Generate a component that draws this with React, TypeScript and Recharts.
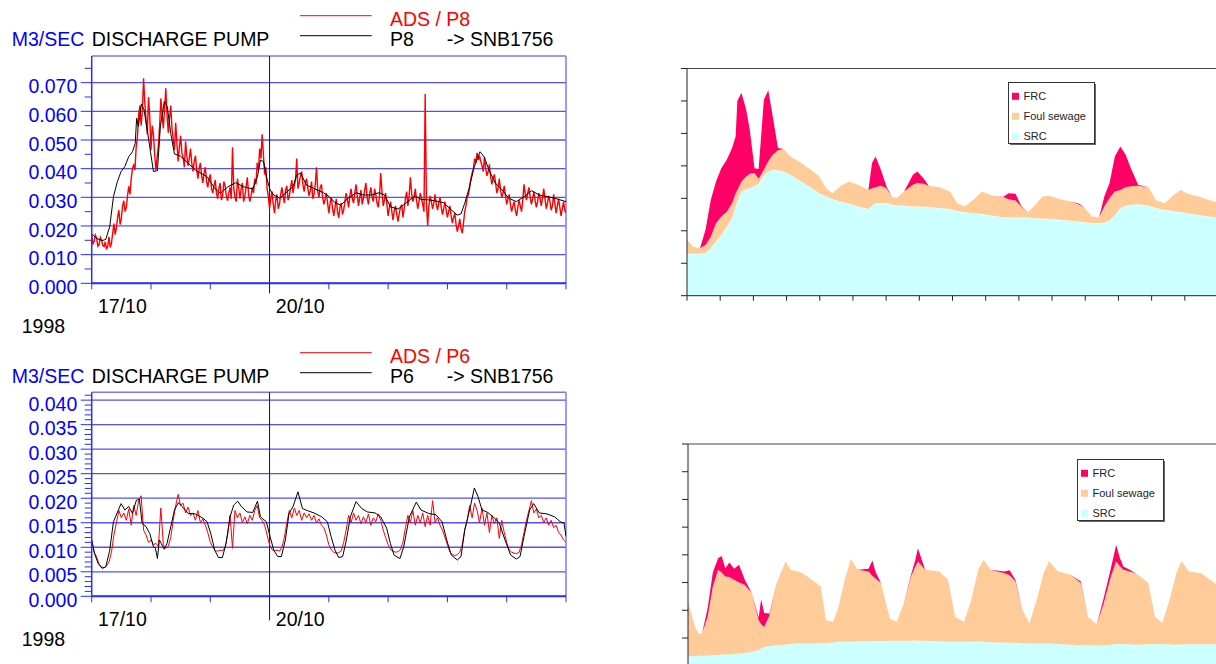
import React from 'react';
import { LineChart, Line, AreaChart, Area, XAxis, YAxis, CartesianGrid, ReferenceLine, Legend } from 'recharts';

const FONT = '"Liberation Sans", Arial, Helvetica, sans-serif';
const BLUE_TEXT = '#0000ff';
const GRID_BLUE = '#5050ff';
const FRAME_BLUE = '#7878ff';
const AXIS_BLUE = '#2c2cff';
const DATE_LINE = '#0000c8';

// ---------- shared x axis (hours from 17/10 00:00) ----------
const dayTicks = [0, 24, 48, 72, 96, 120, 144, 168, 192];
const dayLabels: Record<number, string> = { 0: '17/10', 72: '20/10' };
const yearLabel = '1998';
const halfDayTicks = [0, 12, 24, 36, 48, 60, 72, 84, 96, 108, 120, 132, 144, 156, 168, 180, 192];

// ---------- P8 (top-left) ----------
const p8Max = 0.0793;
const p8Ticks = [0, 0.005, 0.01, 0.015, 0.02, 0.025, 0.03, 0.035, 0.04, 0.045, 0.05, 0.055, 0.06, 0.065, 0.07, 0.075];
const p8Majors = [0, 0.01, 0.02, 0.03, 0.04, 0.05, 0.06, 0.07];
// ADS / P8 values on the hour (m3/s), hour 0..192
const p8Ads = [
  0.0170, 0.0146, 0.0157, 0.0135, 0.0150, 0.0128, 0.0118, 0.0162, 0.0140, 0.0208, 0.0194, 0.0255,
  0.0226, 0.0288, 0.0265, 0.0338, 0.0365, 0.0412, 0.0475, 0.0585, 0.0550, 0.0715, 0.0570, 0.0650,
  0.0465, 0.0520, 0.0395, 0.0480, 0.0645, 0.0540, 0.0680, 0.0525, 0.0620, 0.0505, 0.0560, 0.0425,
  0.0515, 0.0440, 0.0495, 0.0410, 0.0470, 0.0390, 0.0445, 0.0365, 0.0420, 0.0350, 0.0405, 0.0335,
  0.0380, 0.0315, 0.0360, 0.0295, 0.0350, 0.0305, 0.0340, 0.0288, 0.0335, 0.0475, 0.0300, 0.0365,
  0.0295, 0.0350, 0.0305, 0.0370, 0.0285, 0.0335, 0.0365, 0.0420, 0.0470, 0.0520, 0.0380, 0.0330,
  0.0260, 0.0320, 0.0245, 0.0310, 0.0275, 0.0335, 0.0280, 0.0340, 0.0305, 0.0360, 0.0340, 0.0435,
  0.0350, 0.0390, 0.0320, 0.0365, 0.0305, 0.0355, 0.0310, 0.0405, 0.0300, 0.0345, 0.0275, 0.0315,
  0.0245, 0.0300, 0.0235, 0.0295, 0.0228, 0.0280, 0.0255, 0.0315, 0.0265, 0.0330, 0.0280, 0.0345,
  0.0270, 0.0325, 0.0295, 0.0350, 0.0275, 0.0335, 0.0285, 0.0310, 0.0265, 0.0385, 0.0270, 0.0315,
  0.0235, 0.0285, 0.0220, 0.0270, 0.0215, 0.0265, 0.0230, 0.0295, 0.0270, 0.0370, 0.0285, 0.0330,
  0.0260, 0.0315, 0.0275, 0.0660, 0.0200, 0.0305, 0.0260, 0.0310, 0.0255, 0.0300, 0.0240, 0.0285,
  0.0230, 0.0270, 0.0210, 0.0245, 0.0180, 0.0225, 0.0175, 0.0250, 0.0300, 0.0335, 0.0385, 0.0435,
  0.0455, 0.0445, 0.0410, 0.0440, 0.0375, 0.0415, 0.0345, 0.0380, 0.0315, 0.0365, 0.0300, 0.0340,
  0.0275, 0.0310, 0.0250, 0.0285, 0.0235, 0.0290, 0.0250, 0.0345, 0.0290, 0.0335, 0.0275, 0.0320,
  0.0265, 0.0315, 0.0270, 0.0330, 0.0260, 0.0305, 0.0255, 0.0310, 0.0245, 0.0295, 0.0235, 0.0285,
  0.0245,
];
// ADS / P8 values on the half hour (m3/s), hour 0.5..191.5
const p8AdsHalf = [
  0.0138, 0.0168, 0.0129, 0.0160, 0.0132, 0.0145, 0.0130, 0.0125, 0.0175, 0.0170, 0.0230, 0.0205,
  0.0270, 0.0250, 0.0305, 0.0310, 0.0400, 0.0395, 0.0510, 0.0620, 0.0600, 0.0630, 0.0520, 0.0580,
  0.0550, 0.0450, 0.0440, 0.0550, 0.0590, 0.0610, 0.0585, 0.0575, 0.0540, 0.0465, 0.0490, 0.0475,
  0.0455, 0.0405, 0.0445, 0.0435, 0.0420, 0.0425, 0.0395, 0.0400, 0.0375, 0.0385, 0.0355, 0.0365,
  0.0330, 0.0340, 0.0315, 0.0330, 0.0290, 0.0355, 0.0305, 0.0315, 0.0295, 0.0330, 0.0285, 0.0335,
  0.0330, 0.0285, 0.0335, 0.0310, 0.0305, 0.0315, 0.0345, 0.0395, 0.0435, 0.0450, 0.0405, 0.0305,
  0.0295, 0.0275, 0.0290, 0.0260, 0.0310, 0.0305, 0.0325, 0.0290, 0.0335, 0.0315, 0.0360, 0.0330,
  0.0375, 0.0345, 0.0350, 0.0330, 0.0325, 0.0295, 0.0345, 0.0320, 0.0335, 0.0300, 0.0295, 0.0280,
  0.0280, 0.0260, 0.0265, 0.0250, 0.0265, 0.0240, 0.0285, 0.0290, 0.0305, 0.0295, 0.0315, 0.0305,
  0.0300, 0.0275, 0.0325, 0.0300, 0.0310, 0.0300, 0.0330, 0.0280, 0.0305, 0.0320, 0.0290, 0.0275,
  0.0265, 0.0250, 0.0255, 0.0240, 0.0245, 0.0275, 0.0260, 0.0320, 0.0305, 0.0315, 0.0300, 0.0290,
  0.0285, 0.0295, 0.0250, 0.0280, 0.0270, 0.0285, 0.0280, 0.0275, 0.0280, 0.0265, 0.0260, 0.0255,
  0.0250, 0.0235, 0.0230, 0.0205, 0.0200, 0.0190, 0.0210, 0.0270, 0.0310, 0.0365, 0.0400, 0.0420,
  0.0430, 0.0425, 0.0390, 0.0400, 0.0390, 0.0370, 0.0365, 0.0350, 0.0330, 0.0325, 0.0315, 0.0305,
  0.0295, 0.0275, 0.0270, 0.0255, 0.0265, 0.0270, 0.0290, 0.0310, 0.0315, 0.0300, 0.0295, 0.0290,
  0.0285, 0.0295, 0.0300, 0.0295, 0.0280, 0.0285, 0.0270, 0.0280, 0.0270, 0.0265, 0.0260, 0.0255,
];
const p8ModelHours = [
  0, 1.9, 4.2, 5.7, 7.3, 8.8, 10.4, 11.9, 13.4, 15, 16.5, 17.6, 18.2, 18.9, 20.1, 21.2, 22.7, 24.3, 25, 26.6,
  27.8, 29.4, 30.6, 32, 33.5, 35.9, 39, 42, 46.7, 49.8, 52.1, 55.2, 58.3, 61.4, 65.2, 67.1, 68.3, 69.6, 70.7, 72.2,
  73.7, 76.1, 78.4, 81.5, 83, 84.6, 86.9, 90, 93.8, 96.2, 98.5, 100.8, 103.9, 107, 110.1, 113.2, 116.3, 118.6, 120.9, 124,
  127.1, 130.9, 133.3, 136.4, 139.4, 142.5, 145.6, 148, 149.5, 151, 152.6, 154.9, 157.2, 158.8, 161.1, 163.4, 165.7, 168.8, 171.9, 175,
  178.1, 181.2, 185.8, 188.9, 192,
];
const p8Model = [
  0.0174, 0.0157, 0.0149, 0.0153, 0.0198, 0.0302, 0.0355, 0.039, 0.0407, 0.0442, 0.0459, 0.0488, 0.0576, 0.0547, 0.0626, 0.0605, 0.0523, 0.043, 0.039, 0.0393,
  0.0547, 0.0634, 0.0616, 0.0523, 0.0451, 0.0444, 0.0419, 0.0395, 0.0372, 0.0331, 0.0314, 0.0337, 0.0351, 0.0337, 0.0329, 0.0372, 0.043, 0.0424, 0.0372, 0.0326,
  0.0308, 0.0297, 0.0314, 0.0337, 0.0378, 0.0384, 0.0343, 0.0331, 0.0316, 0.0302, 0.0281, 0.0273, 0.0297, 0.0316, 0.0308, 0.0308, 0.0316, 0.0308, 0.0267, 0.0259,
  0.0279, 0.0305, 0.0293, 0.0291, 0.0287, 0.0281, 0.0256, 0.0238, 0.0242, 0.0279, 0.0326, 0.0407, 0.0459, 0.0442, 0.039, 0.0349, 0.0331, 0.0297, 0.0285, 0.0302,
  0.0323, 0.0308, 0.03, 0.0293, 0.0285,
];

// ---------- P6 (bottom-left) ----------
const p6Max = 0.0416;
const p6Ticks = [
  0, 0.001, 0.002, 0.003, 0.004, 0.005, 0.006, 0.007, 0.008, 0.009, 0.01, 0.011, 0.012, 0.013, 0.014,
  0.015, 0.016, 0.017, 0.018, 0.019, 0.02, 0.021, 0.022, 0.023, 0.024, 0.025, 0.026, 0.027, 0.028,
  0.029, 0.03, 0.031, 0.032, 0.033, 0.034, 0.035, 0.036, 0.037, 0.038, 0.039, 0.04, 0.041,
];
const p6Majors = [0, 0.005, 0.01, 0.015, 0.02, 0.025, 0.03, 0.035, 0.04];
const p6Ads = [
  0.0115, 0.0090, 0.0080, 0.0065, 0.0060, 0.0058, 0.0062, 0.0070, 0.0090, 0.0125, 0.0150, 0.0175,
  0.0160, 0.0170, 0.0155, 0.0178, 0.0145, 0.0185, 0.0165, 0.0195, 0.0205, 0.0135, 0.0125, 0.0110,
  0.0115, 0.0105, 0.0108, 0.0102, 0.0180, 0.0105, 0.0098, 0.0102, 0.0120, 0.0155, 0.0185, 0.0208,
  0.0185, 0.0190, 0.0170, 0.0182, 0.0165, 0.0170, 0.0155, 0.0175, 0.0150, 0.0158, 0.0145, 0.0130,
  0.0110, 0.0100, 0.0093, 0.0092, 0.0094, 0.0093, 0.0100, 0.0125, 0.0165, 0.0098, 0.0175, 0.0160,
  0.0170, 0.0150, 0.0162, 0.0148, 0.0165, 0.0155, 0.0175, 0.0185, 0.0160, 0.0155, 0.0145, 0.0125,
  0.0105, 0.0095, 0.0093, 0.0094, 0.0092, 0.0100, 0.0120, 0.0150, 0.0175, 0.0160, 0.0180, 0.0165,
  0.0175, 0.0155, 0.0170, 0.0160, 0.0168, 0.0155, 0.0165, 0.0150, 0.0158, 0.0145, 0.0140, 0.0125,
  0.0105, 0.0095, 0.0090, 0.0088, 0.0089, 0.0092, 0.0110, 0.0135, 0.0165, 0.0150, 0.0170, 0.0155,
  0.0165, 0.0148, 0.0162, 0.0150, 0.0168, 0.0145, 0.0160, 0.0152, 0.0168, 0.0155, 0.0135, 0.0120,
  0.0105, 0.0095, 0.0092, 0.0090, 0.0091, 0.0095, 0.0110, 0.0140, 0.0165, 0.0150, 0.0175, 0.0145,
  0.0165, 0.0150, 0.0170, 0.0142, 0.0165, 0.0145, 0.0195, 0.0150, 0.0160, 0.0145, 0.0135, 0.0120,
  0.0105, 0.0090, 0.0085, 0.0083, 0.0085, 0.0090, 0.0105, 0.0135, 0.0155, 0.0185, 0.0160, 0.0190,
  0.0175, 0.0150, 0.0180, 0.0145, 0.0170, 0.0130, 0.0165, 0.0148, 0.0160, 0.0118, 0.0155, 0.0130,
  0.0110, 0.0095, 0.0090, 0.0088, 0.0087, 0.0090, 0.0105, 0.0130, 0.0155, 0.0175, 0.0195, 0.0170,
  0.0178, 0.0160, 0.0165, 0.0150, 0.0160, 0.0145, 0.0155, 0.0140, 0.0145, 0.0130, 0.0125, 0.0115,
  0.0110,
];
const p6ModelHours = [
  0, 1.1, 2.6, 4.2, 5.7, 7.3, 8.8, 11.9, 13.4, 15, 16.5, 18.1, 19.3, 20.4, 22, 23.5, 25, 25.8, 26.6, 27.4,
  28.1, 29.4, 30.5, 32, 33.5, 35.1, 36.6, 39, 42, 45.1, 46.7, 48.2, 49.8, 51.3, 52.9, 54.4, 56, 57.5, 59.1, 60.6,
  62.9, 65.2, 67.1, 68.3, 70.7, 72.2, 73.7, 75.3, 76.8, 78.4, 79.9, 81.5, 83.5, 85.3, 87.7, 90, 93.1, 95.4, 96.9, 98.5,
  100, 101.6, 103.1, 104.7, 107, 109.3, 111.6, 114.7, 117, 119.4, 120.9, 122.4, 124.8, 126.3, 128.6, 131.4, 133.3, 136.4, 139.4, 141.8,
  144.1, 145.6, 148, 149.5, 151, 153.3, 154.9, 156.4, 158, 160.3, 162.6, 165, 167.3, 169.6, 171.9, 173.4, 175, 177.3, 178.9, 181.2,
  184.3, 187.4, 189.7, 191.2, 192,
];
const p6Model = [
  0.0115, 0.0088, 0.0067, 0.0057, 0.006, 0.0094, 0.0152, 0.0189, 0.0176, 0.0183, 0.0169, 0.0196, 0.0198, 0.0149, 0.0142, 0.0128, 0.0101, 0.0098, 0.0077, 0.0115,
  0.0108, 0.0096, 0.0108, 0.0142, 0.0176, 0.0191, 0.0183, 0.0169, 0.0168, 0.0159, 0.0152, 0.0128, 0.0094, 0.0079, 0.0079, 0.0108, 0.0162, 0.0186, 0.0194, 0.0183,
  0.0172, 0.0171, 0.0194, 0.0162, 0.0152, 0.0122, 0.0094, 0.0081, 0.0081, 0.0115, 0.0169, 0.0183, 0.0213, 0.0179, 0.0174, 0.017, 0.0162, 0.0152, 0.0122, 0.0094,
  0.0079, 0.0081, 0.0115, 0.0162, 0.0193, 0.0179, 0.0172, 0.017, 0.0162, 0.0139, 0.0108, 0.0084, 0.0077, 0.0101, 0.0162, 0.0192, 0.0176, 0.0169, 0.0166, 0.0152,
  0.0108, 0.0084, 0.0074, 0.0081, 0.0135, 0.0183, 0.0221, 0.0203, 0.0176, 0.0171, 0.0162, 0.0149, 0.0115, 0.0084, 0.0076, 0.0081, 0.0122, 0.0176, 0.0189, 0.017,
  0.0168, 0.0162, 0.0152, 0.0149, 0.0122,
];

// ---------- stacked flow components, top-right (L/s) ----------
const trMax = 70;
const trTicks = [0, 10, 20, 30, 40, 50, 60, 70];
const trHours = [
  0, 2.2, 4.7, 6.7, 8.6, 10.5, 12.4, 14.4, 16.3, 17.6, 18.2, 19.7, 21.4, 22.7, 24.4, 25.9, 27.8, 29.4, 31.0, 32.9,
  34.9, 37.4, 41.3, 45.1, 47.7, 50.3, 52.6, 55.4, 58.6, 61.8, 65.6, 66.9, 68.2, 70.1, 72.1, 74, 75.9, 78.5, 81.7, 83.3,
  85.5, 87.4, 91.3, 95.1, 97.7, 100.3, 103.5, 106.7, 110.5, 114.4, 116.3, 118.8, 120.8, 123.3, 125.9, 128.5, 131, 134.9, 138.7, 141.9,
  143.8, 146.4, 149, 150.9, 152.8, 154.7, 156.7, 158.6, 160.5, 163.1, 166.9, 169.5, 172.7, 175.3, 178.5, 181, 184.9, 188.7, 192,
];
const trSrc = [
  12.9, 12.9, 12.9, 13.1, 14.6, 16.7, 18.7, 21.3, 23.9, 27.5, 29.0, 32.1, 32.8, 33.1, 33.7, 34.5, 37.2, 38.3, 38.8, 38.6,
  38.3, 37.3, 35.2, 33.1, 31.6, 30.6, 29.7, 29.0, 28.3, 27.5, 26.7, 27.7, 28.5, 28.5, 28.6, 28.0, 27.8, 27.7, 27.5, 27.5,
  27.4, 27.3, 27.0, 26.7, 26.1, 25.7, 25.4, 25.2, 24.6, 24.2, 24.1, 24.1, 24.1, 24.1, 23.9, 23.8, 23.7, 23.4, 23.1, 22.8,
  22.6, 22.3, 22.3, 22.5, 23.2, 24.9, 27.0, 27.7, 28.0, 28.2, 27.7, 27.0, 26.4, 26.1, 25.7, 25.4, 24.9, 24.4, 23.9,
];
const trFoul = [
  4.3, 2.2, 1.7, 2.5, 3.6, 5.6, 5.7, 4.6, 4.6, 4.1, 3.6, 3.1, 3.9, 4.5, 4.1, 1.5, 1.6, 3.1, 4.6, 6.2,
  6.9, 5.6, 5.7, 5.5, 5.3, 2.5, 1.9, 4.7, 6.9, 6.7, 5.9, 5.4, 4.9, 5.4, 4.5, 2.6, 2.3, 4.4, 6.7, 7.2,
  7.1, 6.6, 6.4, 5.4, 2.4, 1.8, 4.1, 6.9, 6.2, 6.2, 5.6, 5.2, 3.4, 1.6, 4.1, 6.8, 7.1, 6.3, 5.9, 5.2,
  4.4, 2.1, 1.8, 5.0, 6.9, 7.2, 5.6, 5.7, 5.7, 5.7, 5.7, 2.5, 2.1, 4.5, 6.9, 6.0, 5.7, 5.1, 4.8,
];
const trFrc = [
  0, 0, 0, 4.7, 11.3, 12.9, 14.9, 16.0, 17.0, 17.5, 27.4, 27.3, 20.6, 13.5, 1.5, 3.0, 21.6, 21.9, 11.9, 0.7,
  0, 0, 0, 0, 0, 0, 0, 0, 0, 0, 0, 7.8, 9.5, 4.9, 0.6, 0, 0, 0, 3.1, 3.6,
  1.7, 0, 0, 0, 0, 0, 0, 0, 0, 0.1, 1.9, 2.1, 0.2, 0, 0, 0, 0, 0, 0, 0.3,
  0, 0, 0, 3.1, 4.6, 10.8, 13.4, 10.0, 5.6, 0.3, 0, 0, 0, 0, 0, 0, 0, 0, 0,
];

// ---------- stacked flow components, bottom-right (L/s) ----------
const brMax = 40;
const brTicks = [0, 5, 10, 15, 20, 25, 30, 35, 40];
const brHours = [
  0, 2.6, 3.8, 5.1, 7.1, 9.0, 10.9, 12.2, 13.5, 15.0, 16.7, 18.5, 20.5, 23.1, 25.6, 26.5, 27.6, 29.5, 32.1, 35.3,
  37.2, 41.0, 44.9, 48.1, 50.0, 52.6, 54.5, 57.1, 59.0, 61.5, 65.4, 66.8, 67.9, 69.9, 73.1, 75.6, 78.2, 80.8, 82.3, 83.3,
  85.9, 91.0, 94.2, 96.8, 100, 102.6, 105.1, 107.1, 109.6, 114.7, 116.5, 118.6, 121.2, 123.7, 126.3, 128.8, 130.8, 134, 138.5, 142.3,
  144.9, 148.1, 150.6, 153.2, 155.1, 156.4, 157.7, 160, 162.2, 166.7, 169.2, 171.8, 174.4, 176.9, 178.8, 181.4, 185.9, 190.8, 192,
];
const brSrc = [
  1.7, 1.7, 1.8, 1.8, 1.8, 1.9, 1.9, 2.0, 2.0, 2.0, 2.1, 2.2, 2.3, 2.5, 2.8, 3.1, 3.4, 3.5, 3.7, 3.8,
  3.9, 4.0, 4.0, 4.1, 4.1, 4.2, 4.3, 4.3, 4.3, 4.4, 4.4, 4.45, 4.45, 4.4, 4.5, 4.5, 4.5, 4.5, 4.6, 4.5,
  4.5, 4.4, 4.3, 4.3, 4.3, 4.3, 4.4, 4.3, 4.2, 4.2, 4.15, 4.15, 4.1, 4.0, 4.0, 4.0, 4.0, 3.9, 3.8, 3.7,
  3.7, 3.6, 3.7, 3.8, 3.9, 3.9, 3.85, 3.85, 3.8, 3.85, 3.9, 3.85, 3.85, 3.8, 3.85, 3.85, 3.85, 3.85, 3.85,
];
const brFoul = [
  9.8, 5.3, 4.0, 4.0, 7.0, 12.4, 15.4, 14.8, 14.1, 14.0, 13.4, 12.8, 12.3, 10.6, 5.4, 4.4, 3.6, 5.6, 11.2, 15.0,
  13.4, 12.8, 11.5, 10.2, 4.1, 3.7, 6.3, 11.8, 14.9, 12.9, 12.6, 11.75, 11.35, 10.5, 4.0, 3.4, 6.7, 11.6, 13.2, 14.3,
  12.8, 12.6, 11.2, 4.5, 3.6, 7.5, 12.9, 14.8, 13.1, 12.5, 12.15, 11.05, 5.9, 3.6, 7.8, 12.7, 14.9, 13.1, 12.6, 11.2,
  5.1, 3.9, 7.5, 12.3, 14.9, 14.1, 13.45, 13.15, 12.9, 11.15, 4.9, 3.85, 7.95, 12.9, 15.05, 13.15, 12.85, 11.05, 10.65,
];
const brFrc = [
  0, 0, 0, 0, 1.5, 2.5, 2.1, 3.0, 1.5, 2.6, 2.0, 3.2, 1.0, 0, 0.5, 4.5, 2.5, 0.3, 0, 0,
  0, 0, 0, 0, 0, 0, 0, 0, 0, 0, 0.5, 2.8, 1.2, 0, 0, 0, 0, 0.3, 1.2, 2.4,
  0, 0, 0, 0, 0, 0, 0, 0, 0, 0.3, 0.9, 0.3, 0, 0, 0, 0, 0, 0, 0, 0.3,
  0, 0, 1.0, 1.5, 3.0, 1.5, 0.6, 0.3, 0, 0, 0, 0, 0, 0, 0, 0, 0, 0, 0,
];

const seriesColors: Record<string, string> = { frc: '#ff0066', foul: '#ffcc99', src: '#ccffff' };

// ---------- built tables ----------
const p8AdsData = p8Ads.flatMap((v, i) => (i < p8AdsHalf.length ? [{ h: i, v }, { h: i + 0.5, v: p8AdsHalf[i] }] : [{ h: i, v }]));
const p8ModelData = p8ModelHours.map((h, i) => ({ h, v: p8Model[i] }));
const p6AdsData = p6Ads.map((v, i) => ({ h: i, v }));
const p6ModelData = p6ModelHours.map((h, i) => ({ h, v: p6Model[i] }));
const trData = trHours.map((h, i) => ({ h, src: trSrc[i], foul: trFoul[i], frc: trFrc[i] }));
const brData = brHours.map((h, i) => ({ h, src: brSrc[i], foul: brFoul[i], frc: brFrc[i] }));

// ---------- ticks ----------
function ValueTick(props: any) {
  const { x, y, payload, majorEvery } = props;
  const v = payload.value as number;
  const isMajor = Math.round(v * 1000) % majorEvery === 0;
  return (
    <g>
      <line x1={x - (isMajor ? 11 : 7)} x2={x} y1={y} y2={y} stroke={AXIS_BLUE} strokeWidth={1} />
      {isMajor && (
        <text x={x - 14.4} y={y + 10.6} textAnchor="end" fontSize={19.5} fontFamily={FONT} fill={BLUE_TEXT}>
          {v.toFixed(3)}
        </text>
      )}
    </g>
  );
}

function DayTick(props: any) {
  const { x, y, payload, ext } = props;
  const v = payload.value as number;
  const label = dayLabels[v];
  return (
    <g>
      <line x1={x} x2={x} y1={y} y2={y + (v === 72 ? ext : 6)} stroke={v === 72 ? DATE_LINE : AXIS_BLUE} strokeWidth={1} />
      {label && (
        <text x={x + 6.3} y={y + 30} fontSize={19.5} fontFamily={FONT} fill="#000">
          {label}
        </text>
      )}
      {v === 0 && (
        <text x={x - 70} y={y + 50} fontSize={19.5} fontFamily={FONT} fill="#000">
          {yearLabel}
        </text>
      )}
    </g>
  );
}

function DarkYTick(props: any) {
  const { x, y } = props;
  return <line x1={x - 6} x2={x} y1={y} y2={y} stroke="#222" strokeWidth={1} />;
}
function DarkXTick(props: any) {
  const { x, y } = props;
  return <line x1={x} x2={x} y1={y} y2={y + 5} stroke="#222" strokeWidth={1} />;
}

// ---------- headers / legends ----------
function PumpHeader({ pump }: { pump: string }) {
  const t = { fontSize: 19.5, fontFamily: FONT } as const;
  return (
    <svg width={600} height={52} style={{ display: 'block' }}>
      <text x={11.7} y={45.7} {...t} fill={BLUE_TEXT}>M3/SEC</text>
      <text x={91.7} y={45.7} {...t} fill="#000">DISCHARGE PUMP</text>
      <line x1={300} x2={371.7} y1={15.7} y2={15.7} stroke="#ff0000" strokeWidth={1} />
      <line x1={300} x2={371.7} y1={35.7} y2={35.7} stroke="#333" strokeWidth={1.2} />
      <text x={390} y={25.7} {...t} fill="#ff0000">{`ADS / ${pump}`}</text>
      <text x={390} y={45.7} {...t} fill="#000">{pump}</text>
      <text x={446.7} y={45.7} {...t} fill="#000">{'-> SNB1756'}</text>
    </svg>
  );
}

const legendOrder = ['frc', 'foul', 'src'];
function FlowLegend(props: any) {
  const items = [...(props.payload || [])].sort(
    (a: any, b: any) => legendOrder.indexOf(a.dataKey) - legendOrder.indexOf(b.dataKey)
  );
  return (
    <svg width={90} height={65} style={{ display: 'block' }}>
      <rect x={2} y={2} width={86} height={61} fill="#666" />
      <rect x={0.5} y={0.5} width={86} height={61} fill="#fff" stroke="#333" strokeWidth={1} />
      {items.map((it: any, i: number) => {
        const cy = 14.3 + i * 20;
        return (
          <g key={i}>
            <rect x={4} y={cy - 3.5} width={7} height={7} fill={seriesColors[it.dataKey]} />
            <text x={15.5} y={cy + 4} fontSize={11} fontFamily={FONT} fill="#222">{it.value}</text>
          </g>
        );
      })}
    </svg>
  );
}

// ---------- chart components ----------
function PumpChart(props: {
  pump: string; ads: any[]; model: any[]; yMax: number; yTicks: number[]; yMajors: number[];
  majorEvery: number; height: number; plotTop: number; plotBottom: number; headerTop: number; dateExt: number;
  adsWidth: number;
}) {
  const { pump, ads, model, yMax, yTicks, yMajors, majorEvery, height, plotTop, plotBottom, headerTop, dateExt, adsWidth } = props;
  return (
    <LineChart width={600} height={height} margin={{ top: plotTop, right: 34, bottom: 0, left: 0 }}>
      <CartesianGrid horizontal vertical={false} horizontalValues={yMajors} stroke={GRID_BLUE} strokeWidth={1.3} />
      <XAxis
        type="number" dataKey="h" domain={[0, 192]} ticks={dayTicks} interval={0} height={height - plotBottom}
        tickSize={0} tickMargin={0} tickLine={false} axisLine={{ stroke: AXIS_BLUE, strokeWidth: 2 }}
        tick={(p: any) => <DayTick {...p} ext={dateExt} />} allowDataOverflow
      />
      <YAxis
        type="number" domain={[0, yMax]} ticks={yTicks} interval={0} width={91.7}
        tickSize={0} tickMargin={0} tickLine={false} axisLine={{ stroke: AXIS_BLUE, strokeWidth: 1.5 }}
        tick={(p: any) => <ValueTick {...p} majorEvery={majorEvery} />} allowDataOverflow
      />
      <ReferenceLine y={yMax} stroke={FRAME_BLUE} strokeWidth={1.5} />
      <ReferenceLine x={192} stroke={FRAME_BLUE} strokeWidth={1.5} />
      <ReferenceLine x={72} stroke={DATE_LINE} strokeWidth={1} />
      <Line data={ads} dataKey="v" name={`ADS / ${pump}`} type="linear" stroke="#ff0000" strokeWidth={adsWidth}
        dot={false} activeDot={false} isAnimationActive={false} />
      <Line data={model} dataKey="v" name={pump} type="linear" stroke="#000000" strokeWidth={1}
        dot={false} activeDot={false} isAnimationActive={false} />
      <Legend layout="vertical" align="center" verticalAlign="middle"
        wrapperStyle={{ left: 0, top: headerTop, width: 600, height: 52 }}
        content={() => <PumpHeader pump={pump} />} />
    </LineChart>
  );
}

function FlowChart(props: {
  data: any[]; yMax: number; yTicks: number[]; height: number; plotTop: number; plotBottom: number;
  yAxisWidth: number; legendLeft: number; legendTop: number; srcStroke: string;
}) {
  const { data, yMax, yTicks, height, plotTop, plotBottom, yAxisWidth, legendLeft, legendTop, srcStroke } = props;
  return (
    <AreaChart width={580} height={height} data={data} margin={{ top: plotTop, right: 2, bottom: 0, left: 0 }}>
      <XAxis
        type="number" dataKey="h" domain={[0, 192]} ticks={halfDayTicks} interval={0} height={height - plotBottom}
        tickSize={0} tickMargin={0} tickLine={false} axisLine={{ stroke: '#222', strokeWidth: 1 }}
        tick={DarkXTick} allowDataOverflow
      />
      <YAxis
        type="number" domain={[0, yMax]} ticks={yTicks} interval={0} width={yAxisWidth}
        tickSize={0} tickMargin={0} tickLine={false} axisLine={{ stroke: '#222', strokeWidth: 1 }}
        tick={DarkYTick} allowDataOverflow
      />
      <Area dataKey="src" name="SRC" stackId="flow" type="linear" fill={seriesColors.src} fillOpacity={1}
        stroke={srcStroke} strokeWidth={1} dot={false} activeDot={false} isAnimationActive={false} />
      <Area dataKey="foul" name="Foul sewage" stackId="flow" type="linear" fill={seriesColors.foul} fillOpacity={1}
        stroke="none" dot={false} activeDot={false} isAnimationActive={false} />
      <Area dataKey="frc" name="FRC" stackId="flow" type="linear" fill={seriesColors.frc} fillOpacity={1}
        stroke="none" dot={false} activeDot={false} isAnimationActive={false} />
      <ReferenceLine y={yMax} stroke="#444" strokeWidth={1} />
      <Legend layout="vertical" align="center" verticalAlign="middle"
        wrapperStyle={{ left: legendLeft, top: legendTop, width: 90, height: 65 }}
        content={(p: any) => <FlowLegend {...p} />} />
    </AreaChart>
  );
}

export default function App() {
  return (
    <div style={{ position: 'absolute', left: 0, top: 0, width: 1216, height: 664, overflow: 'hidden', background: '#fff', fontFamily: FONT }}>
      <div style={{ position: 'absolute', left: 0, top: 0 }}>
        <PumpChart pump="P8" ads={p8AdsData} model={p8ModelData} yMax={p8Max} yTicks={p8Ticks} yMajors={p8Majors}
          majorEvery={10} height={340} plotTop={56} plotBottom={283.3} headerTop={0} dateExt={10} adsWidth={1.4} />
      </div>
      <div style={{ position: 'absolute', left: 0, top: 330 }}>
        <PumpChart pump="P6" ads={p6AdsData} model={p6ModelData} yMax={p6Max} yTicks={p6Ticks} yMajors={p6Majors}
          majorEvery={5} height={334} plotTop={62.3} plotBottom={266.3} headerTop={7} dateExt={24} adsWidth={1} />
      </div>
      <div style={{ position: 'absolute', left: 640, top: 40 }}>
        <FlowChart data={trData} yMax={trMax} yTicks={trTicks} height={270} plotTop={28.5} plotBottom={255.7}
          yAxisWidth={47} legendLeft={368} legendTop={41.7} srcStroke="#ffffff" />
      </div>
      <div style={{ position: 'absolute', left: 640, top: 420 }}>
        <FlowChart data={brData} yMax={brMax} yTicks={brTicks} height={260} plotTop={24} plotBottom={245.7}
          yAxisWidth={48} legendLeft={436.7} legendTop={39.3} srcStroke="none" />
      </div>
    </div>
  );
}
